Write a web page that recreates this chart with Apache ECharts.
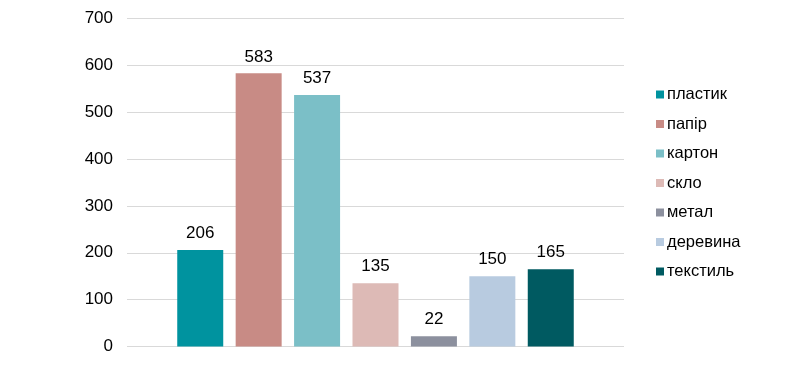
<!DOCTYPE html>
<html><head><meta charset="utf-8">
<script src="https://cdn.jsdelivr.net/npm/echarts@6/dist/echarts.min.js"></script>
<style>html,body{margin:0;padding:0;background:#fff}#c{width:811px;height:371px}</style>
</head><body><div id="c"></div>
<script>
const seriesNames = ['пластик','папір','картон','скло','метал','деревина','текстиль'];
const seriesValues = [206, 583, 537, 135, 22, 150, 165];
const colors = ['#00939F','#C88B85','#7BBFC7','#DDBAB6','#8C909E','#B8CBE0','#005A61'];
const yTicks = [0,100,200,300,400,500,600,700];

const chart = echarts.init(document.getElementById('c'));
const font = 'Liberation Sans, Arial, sans-serif';
chart.setOption({
  animation: false,
  grid: {left: 127, right: 187, top: 18.5, bottom: 24.5, containLabel: false},
  xAxis: {type: 'category', data: [''], axisLine: {show: false}, axisTick: {show: false}, axisLabel: {show: false}},
  yAxis: {type: 'value', min: yTicks[0], max: yTicks[yTicks.length-1], interval: 100,
    axisLine: {show: false}, axisTick: {show: false},
    axisLabel: {color: '#000', fontSize: 17, fontFamily: font, margin: 14},
    splitLine: {lineStyle: {color: '#d9d9d9', width: 1}}},
  legend: {orient: 'vertical', left: 651, top: 81, itemWidth: 8, itemHeight: 8, itemGap: 12.5,
    icon: 'rect', textStyle: {color: '#000', fontSize: 16.5, fontFamily: font, padding: [0,0,0,-2]},
    data: seriesNames},
  series: seriesNames.map((n, i) => ({
    name: n, type: 'bar', data: [seriesValues[i]],
    barWidth: 46, barGap: '27%', barCategoryGap: '20%',
    itemStyle: {color: colors[i]},
    label: {show: true, position: 'top', distance: 8, color: '#000', fontSize: 17, fontFamily: font}
  }))
});
</script></body></html>
